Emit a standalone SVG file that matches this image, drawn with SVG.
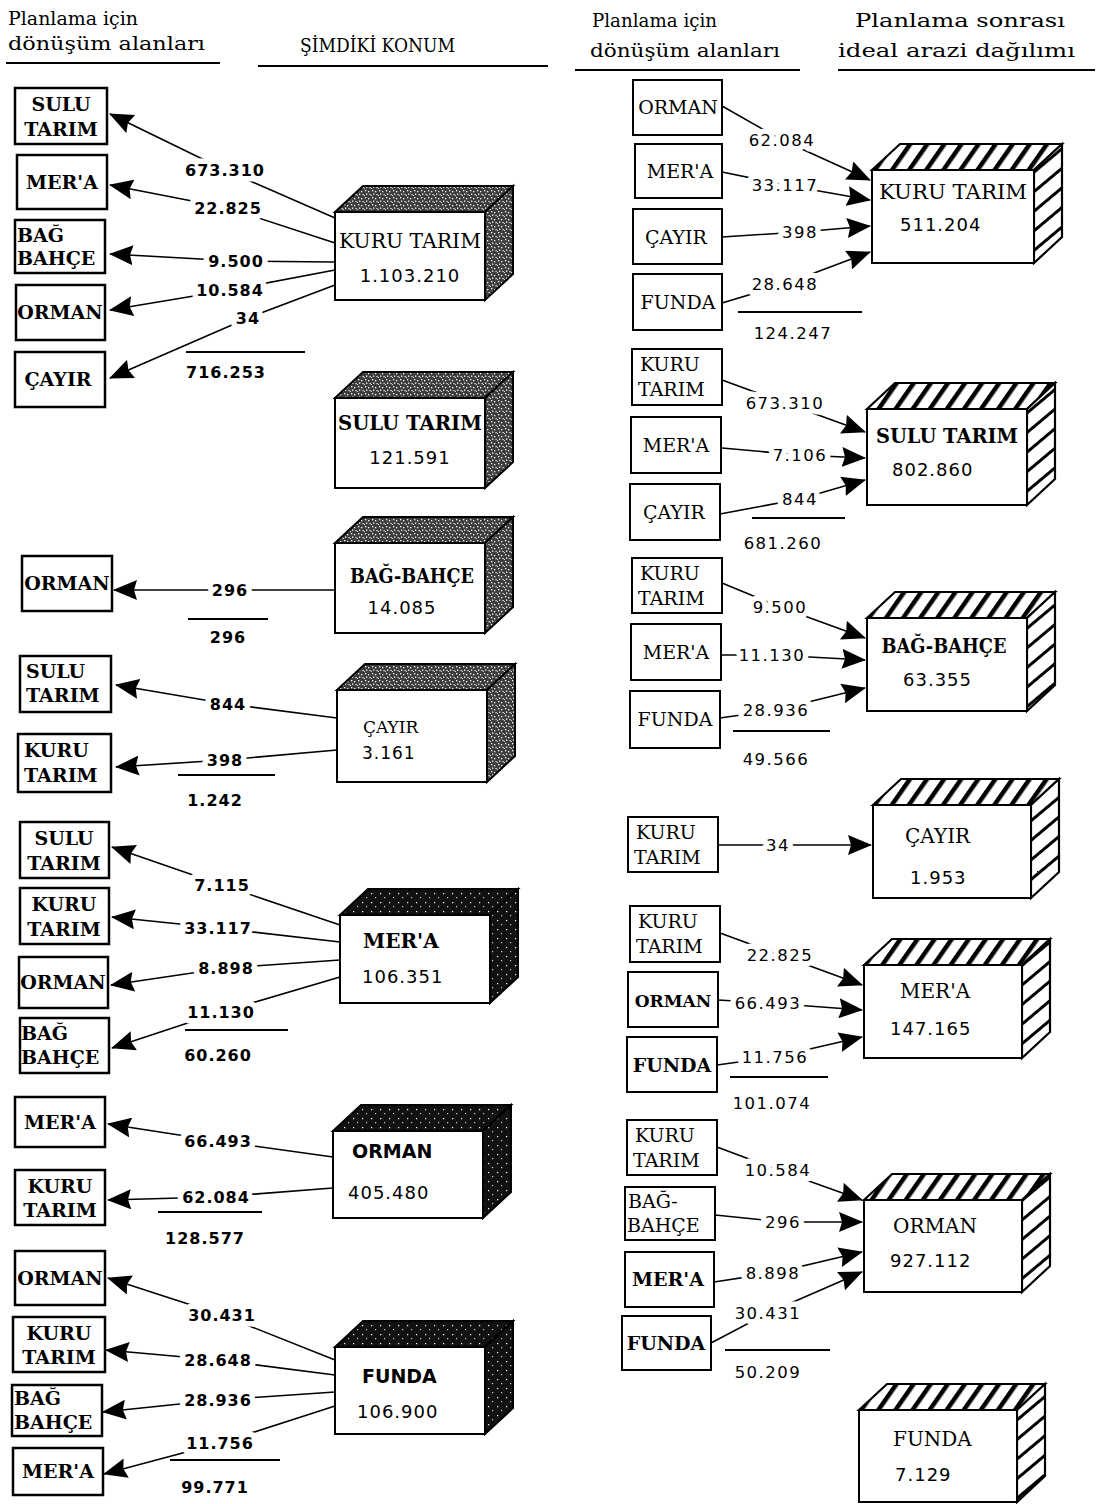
<svg xmlns="http://www.w3.org/2000/svg" width="1099" height="1504" viewBox="0 0 1099 1504">
<style>
.hd{font-family:"DejaVu Serif","Liberation Serif",serif;font-size:18px;fill:#000}
.sb{font-family:"DejaVu Serif","Liberation Serif",serif;font-size:19px;font-weight:bold;fill:#000}
.sr{font-family:"DejaVu Serif","Liberation Serif",serif;font-size:19px;fill:#000}
.bt{font-family:"DejaVu Serif","Liberation Serif",serif;font-size:20px;fill:#000}
.btb{font-family:"DejaVu Serif","Liberation Serif",serif;font-size:20px;font-weight:bold;fill:#000}
.bs{font-family:"DejaVu Sans","Liberation Sans",sans-serif;font-size:19px;font-weight:bold;fill:#000}
.bn{font-family:"DejaVu Sans","Liberation Sans",sans-serif;font-size:18px;letter-spacing:1px;fill:#000}
.nl{font-family:"DejaVu Sans","Liberation Sans",sans-serif;font-size:16px;font-weight:bold;letter-spacing:1px;fill:#000;text-anchor:middle;stroke:#fff;stroke-width:11px;paint-order:stroke;stroke-linejoin:round}
.nr{font-family:"DejaVu Sans","Liberation Sans",sans-serif;font-size:16.5px;letter-spacing:1.5px;fill:#000;text-anchor:middle;stroke:#fff;stroke-width:11px;paint-order:stroke;stroke-linejoin:round}
.box{fill:#fff;stroke:#000;stroke-width:2}
.boxl{fill:#fff;stroke:#000;stroke-width:2.5}
.rule{stroke:#000;stroke-width:2}
.sum{stroke:#000;stroke-width:1.8}
.c{fill:none;stroke:#000;stroke-width:1.6;marker-end:url(#ah)}
.fA{fill:url(#stipA);stroke:#000;stroke-width:2}
.fB{fill:url(#stipB);stroke:#000;stroke-width:2}
.hT{fill:url(#hatchT);stroke:#000;stroke-width:2.2}
.hR{fill:url(#hatchR);stroke:#000;stroke-width:2.2}
.mid{text-anchor:middle}
</style>
<defs>
<marker id="ah" markerUnits="userSpaceOnUse" markerWidth="24" markerHeight="20" viewBox="0 0 24 20" refX="23" refY="10" orient="auto">
<path d="M0,0 L24,10 L0,20 L3,10 z" fill="#000"/>
</marker>
<pattern id="stipA" patternUnits="userSpaceOnUse" width="7" height="7">
<rect width="7" height="7" fill="#3c3c3c"/>
<rect x="1" y="1" width="1.3" height="1.3" fill="#fff"/>
<rect x="4" y="2" width="1.3" height="1.3" fill="#fff"/>
<rect x="2" y="4.5" width="1.3" height="1.3" fill="#fff"/>
<rect x="5.5" y="5" width="1.2" height="1.2" fill="#fff"/>
<rect x="0" y="6" width="1" height="1" fill="#ddd"/>
</pattern>
<pattern id="stipB" patternUnits="userSpaceOnUse" width="9" height="9">
<rect width="9" height="9" fill="#111"/>
<rect x="2" y="2" width="1.2" height="1.2" fill="#fff"/>
<rect x="6" y="6" width="1.2" height="1.2" fill="#ccc"/>
</pattern>
<pattern id="hatchT" patternUnits="userSpaceOnUse" width="14" height="14" patternTransform="rotate(35)">
<rect width="14" height="14" fill="#fff"/>
<rect x="0" y="0" width="4.5" height="14" fill="#000"/>
</pattern>
<pattern id="hatchR" patternUnits="userSpaceOnUse" width="15" height="15" patternTransform="rotate(50)">
<rect width="15" height="15" fill="#fff"/>
<rect x="0" y="0" width="3" height="15" fill="#000"/>
</pattern>
</defs>
<rect width="1099" height="1504" fill="#fff"/>

<g id="headers">
<text class="hd" x="8" y="25" textLength="130" lengthAdjust="spacingAndGlyphs">Planlama için</text>
<text class="hd" x="8" y="50" textLength="197" lengthAdjust="spacingAndGlyphs">dönüşüm alanları</text>
<line class="rule" x1="6" y1="63" x2="220" y2="63"/>
<text class="hd" x="300" y="52" textLength="155" lengthAdjust="spacingAndGlyphs">ŞİMDİKİ KONUM</text>
<line class="rule" x1="258" y1="66" x2="548" y2="66"/>
<text class="hd" x="592" y="27" textLength="125" lengthAdjust="spacingAndGlyphs">Planlama için</text>
<text class="hd" x="590" y="57" textLength="190" lengthAdjust="spacingAndGlyphs">dönüşüm alanları</text>
<line class="rule" x1="575" y1="70" x2="800" y2="70"/>
<text class="hd" x="855" y="27" textLength="210" lengthAdjust="spacingAndGlyphs">Planlama sonrası</text>
<text class="hd" x="838" y="57" textLength="237" lengthAdjust="spacingAndGlyphs">ideal arazi dağılımı</text>
<line class="rule" x1="838" y1="70" x2="1095" y2="70"/>
</g>

<g id="connectors">
<path class="c" d="M335,218 L225,170 L110,114"/>
<path class="c" d="M335,243 L228,208 L110,185"/>
<path class="c" d="M335,262 L236,261 L110,254"/>
<path class="c" d="M335,270 L230,290 L110,310"/>
<path class="c" d="M335,285 L248,318 L110,378"/>
<path class="c" d="M335,590 L230,590 L114,590"/>
<path class="c" d="M337,718 L228,704 L116,685"/>
<path class="c" d="M337,750 L225,760 L116,767"/>
<path class="c" d="M340,925 L222,885 L112,847"/>
<path class="c" d="M340,942 L218,928 L112,917"/>
<path class="c" d="M340,960 L226,968 L111,985"/>
<path class="c" d="M340,977 L221,1012 L112,1048"/>
<path class="c" d="M333,1157 L218,1141 L108,1124"/>
<path class="c" d="M333,1188 L216,1197 L108,1200"/>
<path class="c" d="M335,1360 L222,1315 L108,1278"/>
<path class="c" d="M335,1375 L218,1360 L106,1350"/>
<path class="c" d="M335,1392 L218,1400 L103,1412"/>
<path class="c" d="M335,1406 L220,1443 L104,1474"/>

<path class="c" d="M722,106 L782,140 L870,180"/>
<path class="c" d="M722,172 L785,185 L870,200"/>
<path class="c" d="M722,237 L800,232 L870,226"/>
<path class="c" d="M722,303 L785,284 L870,252"/>
<path class="c" d="M722,380 L785,403 L865,432"/>
<path class="c" d="M722,448 L800,455 L865,458"/>
<path class="c" d="M720,514 L800,499 L865,480"/>
<path class="c" d="M722,583 L780,607 L865,638"/>
<path class="c" d="M721,655 L772,655 L865,660"/>
<path class="c" d="M720,718 L776,710 L865,688"/>
<path class="c" d="M718,845 L778,845 L871,845"/>
<path class="c" d="M720,933 L780,955 L862,985"/>
<path class="c" d="M718,1000 L768,1003 L862,1010"/>
<path class="c" d="M717,1065 L775,1057 L862,1037"/>
<path class="c" d="M717,1147 L778,1170 L862,1200"/>
<path class="c" d="M715,1215 L783,1222 L862,1222"/>
<path class="c" d="M714,1282 L773,1273 L862,1252"/>
<path class="c" d="M711,1343 L768,1313 L862,1272"/>
</g>

<g id="labels">
<text class="nl" x="225" y="176">673.310</text>
<text class="nl" x="228" y="214">22.825</text>
<text class="nl" x="236" y="267">9.500</text>
<text class="nl" x="230" y="296">10.584</text>
<text class="nl" x="248" y="324">34</text>
<line class="sum" x1="186" y1="352" x2="305" y2="352"/>
<text class="nl" x="226" y="378">716.253</text>

<text class="nl" x="230" y="596">296</text>
<line class="sum" x1="188" y1="619" x2="268" y2="619"/>
<text class="nl" x="228" y="643">296</text>

<text class="nl" x="228" y="710">844</text>
<text class="nl" x="225" y="766">398</text>
<line class="sum" x1="178" y1="775" x2="275" y2="775"/>
<text class="nl" x="215" y="806">1.242</text>

<text class="nl" x="222" y="891">7.115</text>
<text class="nl" x="218" y="934">33.117</text>
<text class="nl" x="226" y="974">8.898</text>
<text class="nl" x="221" y="1018">11.130</text>
<line class="sum" x1="185" y1="1030" x2="288" y2="1030"/>
<text class="nl" x="218" y="1061">60.260</text>

<text class="nl" x="218" y="1147">66.493</text>
<text class="nl" x="216" y="1203">62.084</text>
<line class="sum" x1="158" y1="1212" x2="262" y2="1212"/>
<text class="nl" x="205" y="1244">128.577</text>

<text class="nl" x="222" y="1321">30.431</text>
<text class="nl" x="218" y="1366">28.648</text>
<text class="nl" x="218" y="1406">28.936</text>
<text class="nl" x="220" y="1449">11.756</text>
<line class="sum" x1="170" y1="1460" x2="280" y2="1460"/>
<text class="nl" x="215" y="1493">99.771</text>

<text class="nr" x="782" y="146">62.084</text>
<text class="nr" x="785" y="191">33.117</text>
<text class="nr" x="800" y="238">398</text>
<text class="nr" x="785" y="290">28.648</text>
<line class="sum" x1="738" y1="312" x2="862" y2="312"/>
<text class="nr" x="793" y="339">124.247</text>

<text class="nr" x="785" y="409">673.310</text>
<text class="nr" x="800" y="461">7.106</text>
<text class="nr" x="800" y="505">844</text>
<line class="sum" x1="752" y1="518" x2="845" y2="518"/>
<text class="nr" x="783" y="549">681.260</text>

<text class="nr" x="780" y="613">9.500</text>
<text class="nr" x="772" y="661">11.130</text>
<text class="nr" x="776" y="716">28.936</text>
<line class="sum" x1="733" y1="731" x2="830" y2="731"/>
<text class="nr" x="776" y="765">49.566</text>

<text class="nr" x="778" y="851">34</text>

<text class="nr" x="780" y="961">22.825</text>
<text class="nr" x="768" y="1009">66.493</text>
<text class="nr" x="775" y="1063">11.756</text>
<line class="sum" x1="730" y1="1077" x2="828" y2="1077"/>
<text class="nr" x="772" y="1109">101.074</text>

<text class="nr" x="778" y="1176">10.584</text>
<text class="nr" x="783" y="1228">296</text>
<text class="nr" x="773" y="1279">8.898</text>
<text class="nr" x="768" y="1319">30.431</text>
<line class="sum" x1="725" y1="1350" x2="830" y2="1350"/>
<text class="nr" x="768" y="1378">50.209</text>
</g>

<g id="l-sulu-1"><rect class="boxl" x="15" y="88" width="92" height="56"/><text class="sb mid" x="61" y="111">SULU</text><text class="sb mid" x="61" y="136">TARIM</text></g>
<g id="l-mera-1"><rect class="boxl" x="17" y="155" width="90" height="54"/><text class="sb mid" x="62" y="189">MER'A</text></g>
<g id="l-bag-1"><rect class="boxl" x="15" y="220" width="90" height="53"/><text class="sb" x="17" y="242">BAĞ</text><text class="sb" x="17" y="265">BAHÇE</text></g>
<g id="l-orman-1"><rect class="boxl" x="16" y="285" width="89" height="55"/><text class="sb mid" x="60" y="319">ORMAN</text></g>
<g id="l-cayir-1"><rect class="boxl" x="15" y="352" width="90" height="55"/><text class="sb mid" x="58" y="386">ÇAYIR</text></g>

<g id="l-orman-2"><rect class="boxl" x="22" y="556" width="90" height="55"/><text class="sb mid" x="67" y="590">ORMAN</text></g>

<g id="l-sulu-3"><rect class="boxl" x="20" y="656" width="91" height="56"/><text class="sb" x="26" y="678">SULU</text><text class="sb" x="26" y="702">TARIM</text></g>
<g id="l-kuru-3"><rect class="boxl" x="18" y="734" width="93" height="58"/><text class="sb" x="24" y="757">KURU</text><text class="sb" x="24" y="782">TARIM</text></g>

<g id="l-sulu-4"><rect class="boxl" x="20" y="822" width="89" height="56"/><text class="sb mid" x="64" y="845">SULU</text><text class="sb mid" x="64" y="870">TARIM</text></g>
<g id="l-kuru-4"><rect class="boxl" x="20" y="888" width="89" height="56"/><text class="sb mid" x="64" y="911">KURU</text><text class="sb mid" x="64" y="936">TARIM</text></g>
<g id="l-orman-4"><rect class="boxl" x="19" y="957" width="89" height="51"/><text class="sb mid" x="63" y="989">ORMAN</text></g>
<g id="l-bag-4"><rect class="boxl" x="20" y="1018" width="89" height="55"/><text class="sb" x="21" y="1040">BAĞ</text><text class="sb" x="21" y="1064">BAHÇE</text></g>

<g id="l-mera-5"><rect class="boxl" x="15" y="1097" width="90" height="50"/><text class="sb mid" x="60" y="1129">MER'A</text></g>
<g id="l-kuru-5"><rect class="boxl" x="15" y="1170" width="90" height="55"/><text class="sb mid" x="60" y="1193">KURU</text><text class="sb mid" x="60" y="1217">TARIM</text></g>

<g id="l-orman-6"><rect class="boxl" x="15" y="1251" width="90" height="54"/><text class="sb mid" x="60" y="1285">ORMAN</text></g>
<g id="l-kuru-6"><rect class="boxl" x="13" y="1317" width="92" height="55"/><text class="sb mid" x="59" y="1340">KURU</text><text class="sb mid" x="59" y="1364">TARIM</text></g>
<g id="l-bag-6"><rect class="boxl" x="12" y="1385" width="90" height="51"/><text class="sb" x="14" y="1405">BAĞ</text><text class="sb" x="14" y="1429">BAHÇE</text></g>
<g id="l-mera-6"><rect class="boxl" x="13" y="1448" width="90" height="47"/><text class="sb mid" x="58" y="1478">MER'A</text></g>

<g id="L-kuru-tarim">
<polygon class="fA" points="335,212 363,186 513,186 485,212"/>
<polygon class="fA" points="485,212 513,186 513,274 485,300"/>
<rect class="box" x="335" y="212" width="150" height="88"/>
<text class="bt mid" x="410" y="248" textLength="142" lengthAdjust="spacingAndGlyphs">KURU TARIM</text>
<text class="bn mid" x="410" y="282">1.103.210</text>
</g>
<g id="L-sulu-tarim">
<polygon class="fA" points="335,398 363,372 513,372 485,398"/>
<polygon class="fA" points="485,398 513,372 513,462 485,488"/>
<rect class="box" x="335" y="398" width="150" height="90"/>
<text class="btb mid" x="410" y="430" textLength="144" lengthAdjust="spacingAndGlyphs">SULU TARIM</text>
<text class="bn mid" x="410" y="464">121.591</text>
</g>
<g id="L-bag-bahce">
<polygon class="fA" points="335,543 363,517 513,517 485,543"/>
<polygon class="fA" points="485,543 513,517 513,607 485,633"/>
<rect class="box" x="335" y="543" width="150" height="90"/>
<text class="btb mid" x="412" y="583" textLength="124" lengthAdjust="spacingAndGlyphs">BAĞ-BAHÇE</text>
<text class="bn mid" x="402" y="614">14.085</text>
</g>
<g id="L-cayir">
<polygon class="fA" points="337,690 365,664 515,664 487,690"/>
<polygon class="fA" points="487,690 515,664 515,756 487,782"/>
<rect class="box" x="337" y="690" width="150" height="92"/>
<text class="bt" x="363" y="733" style="font-size:17px">ÇAYIR</text>
<text class="bn" x="362" y="759" style="font-size:17px">3.161</text>
</g>
<g id="L-mera">
<polygon class="fB" points="340,915 368,889 518,889 490,915"/>
<polygon class="fB" points="490,915 518,889 518,977 490,1003"/>
<rect class="box" x="340" y="915" width="150" height="88"/>
<text class="btb" x="363" y="948">MER'A</text>
<text class="bn" x="362" y="983">106.351</text>
</g>
<g id="L-orman">
<polygon class="fB" points="333,1131 361,1105 511,1105 483,1131"/>
<polygon class="fB" points="483,1131 511,1105 511,1192 483,1218"/>
<rect class="box" x="333" y="1131" width="150" height="87"/>
<text class="bs" x="352" y="1158">ORMAN</text>
<text class="bn" x="348" y="1199">405.480</text>
</g>
<g id="L-funda">
<polygon class="fB" points="335,1347 363,1321 513,1321 485,1347"/>
<polygon class="fB" points="485,1347 513,1321 513,1408 485,1434"/>
<rect class="box" x="335" y="1347" width="150" height="87"/>
<text class="bs" x="362" y="1383">FUNDA</text>
<text class="bn" x="357" y="1418">106.900</text>
</g>

<g id="r-orman-1"><rect class="box" x="633" y="80" width="89" height="55"/><text class="sr mid" x="678" y="114">ORMAN</text></g>
<g id="r-mera-1"><rect class="box" x="635" y="144" width="87" height="54"/><text class="sr mid" x="680" y="178">MER'A</text></g>
<g id="r-cayir-1"><rect class="box" x="633" y="209" width="89" height="55"/><text class="sr mid" x="676" y="244">ÇAYIR</text></g>
<g id="r-funda-1"><rect class="box" x="633" y="274" width="89" height="56"/><text class="sr mid" x="678" y="309">FUNDA</text></g>

<g id="r-kuru-2"><rect class="box" x="632" y="349" width="90" height="56"/><text class="sr" x="640" y="371">KURU</text><text class="sr" x="638" y="396">TARIM</text></g>
<g id="r-mera-2"><rect class="box" x="631" y="417" width="90" height="56"/><text class="sr mid" x="676" y="452">MER'A</text></g>
<g id="r-cayir-2"><rect class="box" x="630" y="484" width="90" height="56"/><text class="sr mid" x="674" y="519">ÇAYIR</text></g>

<g id="r-kuru-3"><rect class="box" x="632" y="558" width="90" height="55"/><text class="sr" x="640" y="580">KURU</text><text class="sr" x="638" y="605">TARIM</text></g>
<g id="r-mera-3"><rect class="box" x="631" y="624" width="90" height="56"/><text class="sr mid" x="676" y="659">MER'A</text></g>
<g id="r-funda-3"><rect class="box" x="630" y="691" width="90" height="57"/><text class="sr mid" x="675" y="726">FUNDA</text></g>

<g id="r-kuru-4"><rect class="box" x="628" y="817" width="90" height="55"/><text class="sr" x="636" y="839">KURU</text><text class="sr" x="634" y="864">TARIM</text></g>

<g id="r-kuru-5"><rect class="box" x="630" y="906" width="90" height="56"/><text class="sr" x="638" y="928">KURU</text><text class="sr" x="636" y="953">TARIM</text></g>
<g id="r-orman-5"><rect class="box" x="628" y="972" width="90" height="55"/><text class="sr mid" x="673" y="1007" style="font-weight:bold;font-size:17px">ORMAN</text></g>
<g id="r-funda-5"><rect class="box" x="627" y="1037" width="90" height="55"/><text class="sr mid" x="672" y="1072" style="font-weight:bold">FUNDA</text></g>

<g id="r-kuru-6"><rect class="box" x="627" y="1120" width="90" height="55"/><text class="sr" x="635" y="1142">KURU</text><text class="sr" x="633" y="1167">TARIM</text></g>
<g id="r-bag-6"><rect class="box" x="625" y="1187" width="90" height="53"/><text class="sr" x="628" y="1208">BAĞ-</text><text class="sr" x="627" y="1232">BAHÇE</text></g>
<g id="r-mera-6"><rect class="box" x="625" y="1252" width="89" height="55"/><text class="sr mid" x="668" y="1286" style="font-weight:bold">MER'A</text></g>
<g id="r-funda-6"><rect class="box" x="622" y="1316" width="89" height="54"/><text class="sr mid" x="666" y="1350" style="font-weight:bold">FUNDA</text></g>

<g id="R-kuru-tarim">
<polygon class="hT" points="872,170 900,144 1062,144 1034,170"/>
<polygon class="hR" points="1034,170 1062,144 1062,237 1034,263"/>
<rect class="box" x="872" y="170" width="162" height="93"/>
<text class="bt mid" x="953" y="199" textLength="148" lengthAdjust="spacingAndGlyphs">KURU TARIM</text>
<text class="bn" x="900" y="231">511.204</text>
</g>
<g id="R-sulu-tarim">
<polygon class="hT" points="867,409 895,383 1055,383 1027,409"/>
<polygon class="hR" points="1027,409 1055,383 1055,479 1027,505"/>
<rect class="box" x="867" y="409" width="160" height="96"/>
<text class="btb mid" x="947" y="443" textLength="142" lengthAdjust="spacingAndGlyphs">SULU TARIM</text>
<text class="bn" x="892" y="476">802.860</text>
</g>
<g id="R-bag-bahce">
<polygon class="hT" points="867,618 895,592 1055,592 1027,618"/>
<polygon class="hR" points="1027,618 1055,592 1055,685 1027,711"/>
<rect class="box" x="867" y="618" width="160" height="93"/>
<text class="btb mid" x="944" y="653" textLength="125" lengthAdjust="spacingAndGlyphs">BAĞ-BAHÇE</text>
<text class="bn" x="903" y="686">63.355</text>
</g>
<g id="R-cayir">
<polygon class="hT" points="873,805 901,779 1059,779 1031,805"/>
<polygon class="hR" points="1031,805 1059,779 1059,872 1031,898"/>
<rect class="box" x="873" y="805" width="158" height="93"/>
<text class="bt" x="905" y="843">ÇAYIR</text>
<text class="bn" x="910" y="884">1.953</text>
</g>
<g id="R-mera">
<polygon class="hT" points="864,965 892,939 1050,939 1022,965"/>
<polygon class="hR" points="1022,965 1050,939 1050,1032 1022,1058"/>
<rect class="box" x="864" y="965" width="158" height="93"/>
<text class="bt" x="900" y="998">MER'A</text>
<text class="bn" x="890" y="1035">147.165</text>
</g>
<g id="R-orman">
<polygon class="hT" points="864,1200 892,1174 1050,1174 1022,1200"/>
<polygon class="hR" points="1022,1200 1050,1174 1050,1266 1022,1292"/>
<rect class="box" x="864" y="1200" width="158" height="92"/>
<text class="bt" x="893" y="1233">ORMAN</text>
<text class="bn" x="890" y="1267">927.112</text>
</g>
<g id="R-funda">
<polygon class="hT" points="859,1410 887,1384 1045,1384 1017,1410"/>
<polygon class="hR" points="1017,1410 1045,1384 1045,1476 1017,1502"/>
<rect class="box" x="859" y="1410" width="158" height="92"/>
<text class="bt" x="893" y="1446">FUNDA</text>
<text class="bn" x="895" y="1481">7.129</text>
</g>
</svg>
